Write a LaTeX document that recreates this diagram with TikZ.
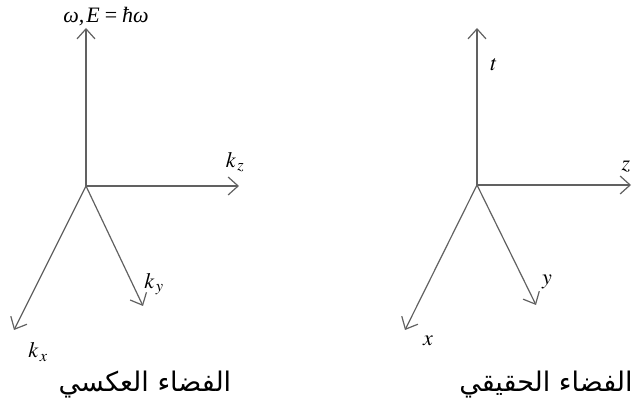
\documentclass[tikz,border=0pt]{standalone}
\usepackage{fontspec}
\usepackage{mathptmx}
\usetikzlibrary{arrows.meta}
\newfontfamily\arabicfont[Script=Arabic]{DejaVu Sans}
\newfontfamily\timesfont{Liberation Serif}
\TeXXeTstate=1
\tikzset{
  axis/.style={draw=black!62, line width=1.2pt, -{Straight Barb[length=10pt,width=18pt,line width=1.2pt]}},
  lbl/.style={inner sep=0pt, font=\fontsize{22}{26}\selectfont},
  title/.style={inner sep=0pt, font=\arabicfont\fontsize{27}{32}\selectfont}
}
\begin{document}
\begin{tikzpicture}[x=1pt,y=-1pt]
\useasboundingbox (0,0) rectangle (638,414);
% reciprocal space
\coordinate (o1) at (86,186);
\coordinate (w) at (86,28);
\coordinate (kz) at (239,186);
\coordinate (kx) at (14,330);
\coordinate (ky) at (143,306);
\draw[axis] (o1) -- (w);
\draw[axis] (o1) -- (kz);
\draw[axis] (o1) -- (kx);
\draw[axis] (o1) -- (ky);
\node[lbl] (lw) at (106,17) {\timesfont\itshape ω,\kern2pt E\kern5pt\upshape=\kern5pt\itshape ħω};
\node[lbl] (lkz) at (235,162) {$k_{\,z}$};
\node[lbl] (lky) at (154,284) {$k_{\,y}$};
\node[lbl] (lkx) at (38,352) {$k_{\,x}$};
% real space
\coordinate (o2) at (477,185);
\coordinate (t) at (477,28);
\coordinate (z) at (631,185);
\coordinate (x) at (405,330);
\coordinate (y) at (536,305);
\draw[axis] (o2) -- (t);
\draw[axis] (o2) -- (z);
\draw[axis] (o2) -- (x);
\draw[axis] (o2) -- (y);
\node[lbl] (lt) at (494,65) {$t$};
\node[lbl] (lz) at (626,167) {$z$};
\node[lbl] (ly) at (547,282) {$y$};
\node[lbl] (lx) at (428,341) {$x$};
% titles
\node[title] (t1) at (145,385) {\beginR الفضاء العكسي\endR};
\node[title] (t2) at (546,385) {\beginR الفضاء الحقيقي\endR};
\end{tikzpicture}
\end{document}
